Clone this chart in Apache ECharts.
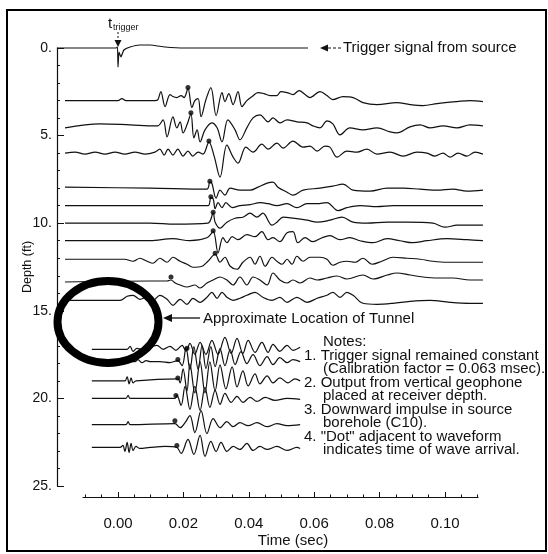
<!DOCTYPE html>
<html><head><meta charset="utf-8">
<script src="https://cdn.jsdelivr.net/npm/echarts@6/dist/echarts.min.js"></script>
<style>html,body{margin:0;padding:0;background:#fff}#c{width:548px;height:554px}</style>
</head><body><div id="c"></div>
<script>
// ---------------- DATA ----------------
// receiver depths (ft) of each trace, top to bottom (0 = trigger signal)
const depths = [0, 3, 4.5, 6, 8, 9, 10, 11, 12, 13.3, 14.4, 17.2, 17.9, 19, 20, 21.5, 22.8];
// each trace: [time (ms), relative amplitude (+ = up)]
const trace00 = [[-18.7,0],[-0.6,0],[-0.15,1],[0,-19],[0.3,-4],[0.9,-9],[1.8,-2],[3.7,1],[6.7,3],[9.8,3],[14.4,1],[20.5,0],[58.1,0]];
const trace03 = [[-16.2,0],[-5.5,0],[0,0],[1.2,2],[2.4,0],[11.3,0],[12.2,1],[13.1,9],[14.4,-6],[15.9,6],[16.8,4],[18.0,3],[19.3,5],[20.2,3],[21.4,12],[22.6,-7],[23.5,0],[24.5,2],[25.4,-16],[26.9,1],[28.4,13],[30.0,-15],[31.8,8],[32.7,-1],[33.9,7],[35.2,-4],[36.7,9],[37.9,-6],[39.4,0],[41.0,4],[42.8,8],[44.6,7],[46.5,5],[48.6,5],[49.8,9],[51.7,8],[53.5,6],[55.4,10],[57.2,6],[58.7,3],[61.8,9],[63.9,5],[65.7,1],[68.8,4],[71.9,3],[74.9,-2],[79.2,-4],[85.3,-2],[89.3,-4],[93.3,-5],[97.6,-3],[103.7,-1],[107.6,0],[111.6,-1]];
const trace045 = [[-16.2,-1],[-5.5,3],[3.7,2],[11.3,1],[12.2,1],[13.8,7],[15.0,-10],[16.8,10],[18.0,-1],[19.0,5],[19.9,-6],[21.1,2],[22.3,13],[23.2,-11],[24.2,-3],[25.1,-15],[26.6,-3],[28.7,4],[30.3,-1],[31.8,-15],[33.6,7],[35.8,-3],[37.3,-13],[39.4,-1],[41.3,9],[43.4,12],[45.9,5],[47.4,9],[49.5,4],[51.7,7],[54.7,5],[57.8,4],[59.6,1],[61.8,-1],[63.9,6],[65.7,3],[67.9,-8],[70.9,-1],[74.9,-3],[79.2,-1],[83.2,-5],[85.3,-6],[89.3,0],[92.4,2],[95.4,-1],[99.4,1],[103.7,-1],[107.6,2],[111.6,1]];
const trace06 = [[-16.2,0],[-13.1,1],[-10.1,-1],[-7.0,1],[-4.0,-1],[-0.9,1],[2.1,-1],[5.2,1],[8.3,-1],[11.3,1],[12.8,4],[14.1,-2],[15.3,4],[16.8,-2],[18.3,4],[19.9,-3],[21.4,2],[22.9,-3],[24.5,1],[26.0,-1],[27.8,11],[29.4,-3],[31.2,-24],[33.3,8],[35.2,-4],[36.7,-10],[39.1,6],[41.3,1],[44.0,9],[45.9,4],[48.6,10],[50.5,5],[53.5,12],[56.6,6],[58.7,7],[60.9,2],[63.3,7],[64.8,6],[67.0,-4],[70.0,2],[73.1,1],[76.1,4],[79.2,-1],[83.2,1],[87.2,-3],[91.4,1],[94.5,0],[96.9,-3],[99.4,0],[101.5,-4],[104.0,0],[106.7,-3],[109.2,1],[111.6,-1]];
const trace08 = [[-16.2,1],[9.8,0],[27.2,-1],[28.1,6],[28.7,5],[30.0,-10],[31.2,-2],[32.7,-7],[34.3,0],[37.3,-2],[40.4,-2],[42.8,1],[45.6,5],[47.4,6],[48.9,1],[51.7,-4],[53.5,-7],[56.6,-2],[61.8,0],[65.7,2],[68.8,4],[71.9,-2],[77.1,-3],[82.3,0],[87.2,0],[92.4,-1],[97.6,-2],[102.4,-1],[106.7,-3],[111.6,-2]];
const trace09 = [[-16.2,0],[9.8,0],[27.5,0],[28.4,8],[29.1,7],[29.7,-3],[30.6,3],[31.8,-2],[33.0,3],[34.9,-2],[37.3,0],[40.4,1],[43.4,3],[45.9,2],[48.6,0],[51.7,2],[54.7,-2],[57.8,2],[60.9,2],[63.9,3],[67.3,-5],[70.0,-2],[74.0,0],[79.2,-1],[84.1,0],[92.4,0],[102.4,0],[111.6,0]];
const trace10 = [[-16.2,0],[9.8,0],[17.4,-1],[27.5,0],[29.1,10],[29.7,1],[31.2,-5],[33.3,1],[35.8,5],[38.2,6],[40.4,10],[42.5,6],[44.3,10],[47.1,-2],[48.6,1],[50.5,6],[53.5,5],[57.8,3],[60.9,1],[64.8,3],[68.5,6],[71.9,1],[76.1,0],[82.3,1],[88.4,1],[96.3,0],[100.0,-4],[103.7,-2],[111.6,-2]];
const trace11 = [[-16.2,0],[9.8,0],[16.8,2],[22.0,0],[27.2,3],[29.1,9],[30.6,-12],[32.1,3],[33.3,-2],[34.9,4],[36.7,1],[39.4,6],[41.9,4],[44.0,9],[45.9,1],[47.4,3],[49.5,-1],[51.7,8],[53.5,9],[55.0,-2],[57.2,3],[59.6,-1],[62.4,3],[64.8,5],[67.9,1],[70.9,3],[74.0,0],[78.0,-2],[82.3,2],[86.2,0],[90.2,-2],[94.5,0],[100.6,2],[106.7,1],[111.6,0]];
const trace12 = [[-16.2,-1],[-5.5,-1],[2.0,-1],[4.6,-3],[6.7,0],[8.9,-3],[10.7,-5],[12.8,0],[15.0,-4],[16.8,1],[19.0,-3],[21.1,-6],[22.9,-9],[25.7,-8],[27.5,-3],[29.7,4],[31.2,-4],[32.7,1],[34.3,-8],[36.4,-11],[38.2,-4],[40.4,1],[41.9,-6],[43.4,2],[45.0,-8],[47.1,1],[48.6,-3],[50.2,-6],[51.7,-1],[53.2,-6],[54.7,2],[56.6,-3],[58.7,1],[61.8,1],[63.9,-1],[65.7,-7],[67.9,-4],[70.0,-3],[72.5,-4],[74.9,0],[77.7,-6],[80.7,-3],[84.1,1],[88.4,0],[92.4,-1],[96.3,-3],[100.6,-4],[105.5,-4],[111.6,-4]];
const trace133 = [[-16.2,-1],[9.8,0],[15.0,0],[16.2,1],[17.5,-2],[19.0,-4],[21.1,-6],[23.5,-4],[25.1,-7],[27.2,-2],[29.1,1],[31.2,4],[33.3,1],[35.2,-4],[37.3,4],[39.4,-4],[41.3,4],[43.4,1],[45.6,-4],[47.4,8],[49.5,1],[51.7,-2],[53.5,1],[55.7,-2],[58.7,3],[60.9,1],[63.9,3],[67.0,5],[70.0,2],[74.9,6],[78.0,2],[82.3,6],[85.3,8],[89.3,6],[93.3,4],[97.6,3],[102.4,3],[107.6,1],[111.6,1]];
const trace144 = [[-16.2,0],[0.6,0],[2.8,4],[4.6,5],[6.7,1],[8.9,3],[10.7,0],[12.8,5],[15.0,1],[16.8,-5],[19.0,1],[21.1,-4],[22.9,2],[25.1,-2],[27.2,3],[28.7,8],[30.3,2],[31.8,8],[33.3,3],[35.2,0],[37.3,2],[39.4,5],[41.9,8],[44.3,3],[47.1,0],[49.5,3],[51.7,-2],[54.7,3],[57.8,-2],[60.9,2],[63.9,5],[65.7,8],[67.9,3],[70.0,8],[71.9,5],[74.9,-3],[79.2,-4],[84.1,-3],[89.3,-1],[95.4,0],[101.5,-2],[107.6,-3],[111.6,-3]];
const trace172 = [[-8.0,0],[2.8,0],[3.7,3],[4.6,-2],[5.8,1],[7.3,0],[11.9,4],[13.8,0],[15.9,3],[17.7,-1],[19.6,4],[20.8,-2],[22.0,6],[23.5,-5],[25.1,7],[26.9,-5],[28.7,9],[30.6,-5],[32.7,12],[34.6,-4],[36.4,11],[38.2,-4],[39.8,9],[41.9,-3],[44.0,7],[45.9,-3],[47.4,5],[49.5,-2],[51.7,4],[53.5,-1],[55.7,2]];
const trace179 = [[-8.0,0],[5.2,0],[6.1,2],[7.3,-1],[8.6,1],[9.8,0],[12.8,0],[15.9,-1],[18.3,1],[19.6,-4],[20.8,14],[22.0,-8],[23.2,15],[24.5,-8],[25.7,16],[26.9,-7],[28.4,15],[29.7,-5],[31.2,13],[32.7,-4],[34.3,12],[35.8,-3],[37.6,10],[39.4,-2],[41.3,7],[43.4,-4],[45.6,5],[47.4,-3],[49.5,4],[51.7,-1],[53.5,2],[55.7,0]];
const trace19 = [[-8.0,0],[2.1,0],[2.8,4],[3.4,-3],[4.0,3],[4.6,-2],[5.5,0],[18.3,2],[19.0,-2],[19.9,12],[21.1,-10],[22.0,17],[23.5,-12],[25.1,19],[26.6,-12],[28.1,19],[29.7,-10],[31.2,16],[33.0,-8],[34.9,14],[36.4,-6],[38.2,10],[39.8,-5],[41.9,7],[43.4,-3],[45.6,5],[47.4,-2],[49.5,3],[52.0,-2],[54.1,2],[55.7,0]];
const trace20 = [[-8.0,0],[2.4,0],[3.1,3],[3.7,0],[17.4,0],[18.0,3],[19.3,-7],[20.5,12],[22.0,-11],[23.5,12],[25.1,-12],[26.6,11],[28.1,-9],[29.7,8],[31.2,-6],[32.7,5],[34.6,-4],[36.4,2],[38.2,-4],[40.4,1],[42.5,-3],[45.0,1],[48.0,-2],[51.7,0],[55.7,-1]];
const trace215 = [[-8.0,0],[2.4,0],[3.1,3],[3.7,0],[17.4,1],[19.0,-3],[20.5,2],[22.0,9],[23.5,-8],[25.4,14],[27.2,-9],[29.1,6],[31.2,-3],[33.3,3],[35.2,-2],[37.3,2],[39.8,-1],[42.5,2],[45.6,-2],[48.6,1],[51.7,-1],[55.7,0]];
const trace228 = [[-8.0,0],[0.6,0],[1.5,2],[2.1,-4],[2.8,5],[3.4,-5],[4.0,4],[4.6,-3],[5.5,1],[6.7,-1],[9.8,0],[14.4,1],[18.0,0],[19.3,-6],[21.4,8],[23.2,-7],[25.1,12],[26.6,-9],[28.4,6],[30.0,-4],[31.5,5],[33.3,-4],[35.2,1],[37.3,-2],[39.4,4],[41.3,-3],[43.4,1],[45.6,-2],[48.6,1],[51.7,-3],[54.7,0],[55.7,-1]];
// "dot" = wave arrival [time (ms), relative amplitude]; null = no dot
const arrivals = [null,[21.4,13],[22.3,14],[27.8,12],[28.1,7],[28.4,9],[29.1,11],[29.1,10],[29.7,5],[16.2,4],null,[21.1,1],[18.3,2],[18.3,3],[17.7,3],[17.4,4],[18.0,2]];
const xTickValues = [0, 0.02, 0.04, 0.06, 0.08, 0.10];
const xMinorTickValues = [-0.01,-0.005,0.005,0.01,0.015,0.025,0.03,0.035,0.045,0.05,0.055,0.065,0.07,0.075,0.085,0.09,0.095,0.105,0.11];
const noteLines = ['Notes:', '1. Trigger signal remained constant', '(Calibration factor = 0.063 msec).', '2. Output from vertical geophone', 'placed at receiver depth.', '3. Downward impulse in source', 'borehole (C10).', '4. "Dot" adjacent to waveform', 'indicates time of wave arrival.'];
const noteIndent = [1, 0, 1, 0, 1, 0, 1, 0, 1];

// ---------------- CHART ----------------
const traces = [trace00, trace03, trace045, trace06, trace08, trace09, trace10, trace11, trace12, trace133, trace144, trace172, trace179, trace19, trace20, trace215, trace228];
const GAIN = 1 / 17.52;        // ft of plot per amplitude unit
const PX_PER_SEC = 3270, T0_X = 118;
const FONT = '"Liberation Sans", Arial, Helvetica, sans-serif';
const INK = '#111';

const chart = echarts.init(document.getElementById('c'), null, {renderer: 'canvas', width: 548, height: 554});

const series = traces.map((tr, i) => ({
  type: 'line', xAxisIndex: 0, yAxisIndex: 0,
  data: tr.map(p => [p[0] / 1000, depths[i] - p[1] * GAIN]),
  showSymbol: false, smooth: i === 0 ? 0.15 : 0.35, clip: false, silent: true,
  lineStyle: {color: INK, width: 1.2}, z: 3
}));
series.push({
  type: 'scatter', xAxisIndex: 0, yAxisIndex: 0, symbol: 'circle', symbolSize: 5,
  itemStyle: {color: '#000'}, silent: true, z: 4,
  data: arrivals.map((a, i) => a ? [a[0] / 1000, depths[i] - a[1] * GAIN] : null).filter(Boolean)
});

const gfx = [
  {type: 'rect', shape: {x: 7, y: 10, width: 539, height: 541}, style: {fill: 'none', stroke: '#000', lineWidth: 2}},
  {type: 'text', x: 108, y: 24, style: {text: 't', font: '15px ' + FONT, fill: INK, verticalAlign: 'middle'}},
  {type: 'text', x: 113, y: 28, style: {text: 'trigger', font: '9px ' + FONT, fill: INK, verticalAlign: 'middle'}},
  {type: 'line', shape: {x1: T0_X, y1: 32, x2: T0_X, y2: 41}, style: {stroke: INK, lineWidth: 1, lineDash: [2, 2]}},
  {type: 'polygon', shape: {points: [[T0_X - 3.5, 40], [T0_X + 3.5, 40], [T0_X, 47]]}, style: {fill: INK}},
  {type: 'polygon', shape: {points: [[320, 48], [328, 44.5], [328, 51.5]]}, style: {fill: INK}},
  {type: 'line', shape: {x1: 328, y1: 48, x2: 341, y2: 48}, style: {stroke: INK, lineWidth: 1, lineDash: [3, 2]}},
  {type: 'text', x: 343, y: 48, style: {text: 'Trigger signal from source', font: '15px ' + FONT, fill: INK, verticalAlign: 'middle'}},
  {type: 'ellipse', shape: {cx: 108, cy: 322, rx: 50.5, ry: 41}, style: {fill: 'none', stroke: '#000', lineWidth: 8}},
  {type: 'polygon', shape: {points: [[163, 318], [172, 314], [172, 322]]}, style: {fill: INK}},
  {type: 'line', shape: {x1: 171, y1: 318, x2: 200, y2: 318}, style: {stroke: INK, lineWidth: 1.3}},
  {type: 'text', x: 203, y: 319, style: {text: 'Approximate Location of Tunnel', font: '15px ' + FONT, fill: INK, verticalAlign: 'middle'}}
];
noteLines.forEach((t, i) => {
  gfx.push({type: 'text', x: noteIndent[i] ? 323 : 304, y: 342 + i * 13.5,
    style: {text: t, font: '15px ' + FONT, fill: INK, verticalAlign: 'middle'}});
});
gfx.push({type: 'text', x: 293, y: 541, style: {text: 'Time (sec)', font: '15px ' + FONT, fill: INK, align: 'center', verticalAlign: 'middle'}});
gfx.push({type: 'text', x: 28, y: 267, rotation: Math.PI / 2, style: {text: 'Depth (ft)', font: '12.5px ' + FONT, fill: INK, align: 'center', verticalAlign: 'middle'}});
gfx.forEach(g => { g.z = 100; g.silent = true; });

const axisTxt = {color: INK, fontFamily: FONT};
chart.setOption({
  animation: false,
  backgroundColor: '#fff',
  grid: [
    {left: 57, top: 48, width: 426, height: 438},
    {left: 83, top: 496, width: 395, height: 1}
  ],
  xAxis: [
    {gridIndex: 0, type: 'value', min: -61 / PX_PER_SEC, max: 365 / PX_PER_SEC, show: false},
    {gridIndex: 1, type: 'value', position: 'bottom', min: -35 / PX_PER_SEC, max: 360 / PX_PER_SEC,
      axisLine: {show: true, onZero: false, lineStyle: {color: INK, width: 1.2}},
      axisTick: {show: true, inside: true, length: 5, customValues: xTickValues, lineStyle: {color: INK}},
      axisLabel: {show: true, customValues: xTickValues, formatter: v => v.toFixed(2), margin: 19, fontSize: 15, ...axisTxt},
      splitLine: {show: false}},
    {gridIndex: 1, type: 'value', position: 'bottom', min: -35 / PX_PER_SEC, max: 360 / PX_PER_SEC,
      axisLine: {show: false, onZero: false},
      axisTick: {show: true, inside: true, length: 2.5, customValues: xMinorTickValues, lineStyle: {color: INK}},
      axisLabel: {show: false}, splitLine: {show: false}}
  ],
  yAxis: [
    {gridIndex: 0, type: 'value', inverse: true, min: 0, max: 25, interval: 5, position: 'left',
      axisLine: {show: true, onZero: false, lineStyle: {color: INK, width: 1.2}},
      axisTick: {show: true, inside: true, length: 7, lineStyle: {color: INK}},
      minorTick: {show: true, splitNumber: 5, length: 3, lineStyle: {color: INK}},
      axisLabel: {formatter: v => v + '.', margin: 5, fontSize: 14, ...axisTxt},
      splitLine: {show: false}},
    {gridIndex: 1, type: 'value', show: false}
  ],
  series: series,
  graphic: gfx
});
</script></body></html>
